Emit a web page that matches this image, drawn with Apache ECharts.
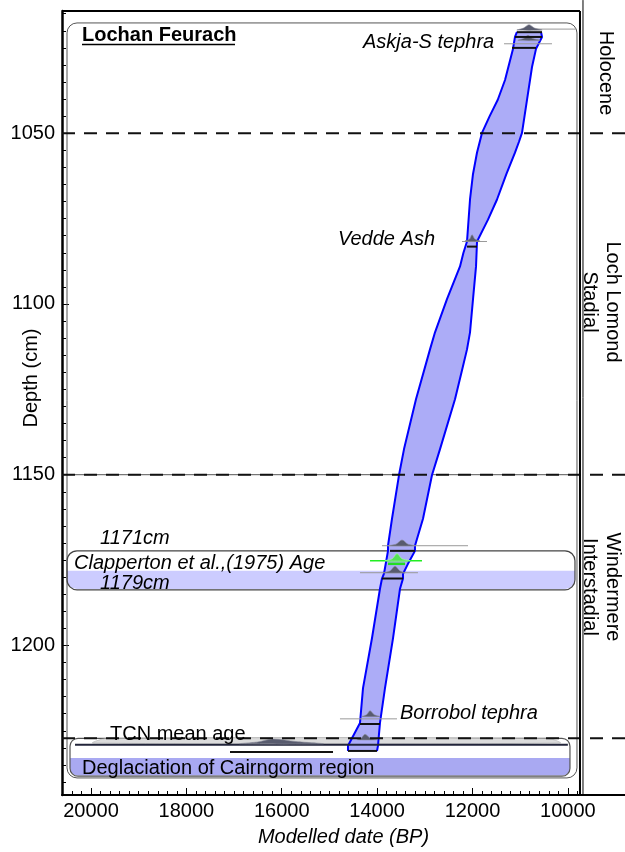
<!DOCTYPE html>
<html><head><meta charset="utf-8">
<script src="https://cdn.jsdelivr.net/npm/echarts@6/dist/echarts.min.js"></script>
<style>html,body{margin:0;padding:0;background:#fff}#c{width:625px;height:852px}</style>
</head><body><div id="c"></div>
<script>
const FONT = "'Liberation Sans', Arial, sans-serif";

// ---- axis extents and ticks ----
const X_MIN = 8802, X_MAX = 20608;       // Modelled date (BP), axis inverted
const Y_MIN = 1014.2, Y_MAX = 1243.8;    // depth (cm), axis inverted
const xTickLabels = [20000, 18000, 16000, 14000, 12000, 10000];
const yTickLabels = [1050, 1100, 1150, 1200];
const xMinorTicks = []; for (let v = 20400; v >= 9800; v -= 200) xMinorTicks.push(v);
const yMinorTicks = []; for (let v = 1015; v <= 1240; v += 5) yMinorTicks.push(v);

// ---- modelled age envelope: [depth, BP] ----
const envelopeOld = [[1020.3,11067],[1021.8,11109],[1025.3,11151],[1034.4,11318],[1040.2,11470],[1045.0,11640],[1049.9,11801],[1055.7,11906],[1062.0,11990],[1069.4,12052],[1081.7,12115],[1085.0,12190],[1089.0,12262],[1098.6,12535],[1108.3,12786],[1113.3,12891],[1127.9,13185],[1142.5,13436],[1150.1,13541],[1162.9,13688],[1170.8,13772],[1172.3,13772],[1179.0,13856],[1180.4,13898],[1183.4,13940],[1197.9,14108],[1212.5,14296],[1222.7,14359],[1229.4,14611],[1230.9,14611]];
const envelopeYoung = [[1020.3,10563],[1021.8,10542],[1025.3,10668],[1030.6,10752],[1040.2,10857],[1049.9,10962],[1052.5,11025],[1055.7,11109],[1062.0,11290],[1069.4,11486],[1075.3,11675],[1081.7,11905],[1089.0,11926],[1098.6,11989],[1108.3,12052],[1113.3,12115],[1120.0,12230],[1127.9,12367],[1142.5,12681],[1150.1,12849],[1162.9,13038],[1170.8,13206],[1172.3,13206],[1176.1,13353],[1179.0,13457],[1180.4,13457],[1183.4,13520],[1197.9,13667],[1212.5,13835],[1222.7,13940],[1229.4,13982],[1230.9,14003]];

// ---- probability distributions: [BP, height (cm above base)] ----
const endBoundaryDist = [[11067,0],[10930,0.6],[10815,1.6],[10700,0.6],[10542,0]];
const askjaDist = [[11046,0],[10920,0.6],[10836,1.5],[10750,0.6],[10585,0]];
const veddeDist = [[12157,0],[12060,0.6],[12010,1.9],[11950,0.6],[11843,0]];
const dist1171 = [[13772,0],[13604,0.45],[13478,1.7],[13353,0.45],[13206,0]];
const clappertonDist = [[13835,0],[13680,0.6],[13583,2.1],[13480,0.6],[13311,0]];
const dist1179 = [[13877,0],[13730,0.5],[13625,1.9],[13520,0.5],[13415,0]];
const borrobolDist = [[14317,0],[14220,0.5],[14149,1.7],[14060,0.5],[13940,0]];
const startDist = [[14422,0],[14330,0.5],[14254,1.6],[14150,0.5],[14003,0]];
const tcnDist = [[16875,0],[16500,0.55],[16183,1.4],[15700,0.65],[15135,0]];
const tcnTail = [[19958,0],[19700,1.3],[10400,1.3],[10165,0]];
// base depths of the distributions
const distBase = {end:1019.8, askja:1022.8, vedde:1081.6, d1171:1170.8, clap:1175.2, d1179:1178.7, borrobol:1220.8, start:1227.6, tcn:1228.8, tail:1228.6};

// ---- range bars and reference lines: [depth, BPfrom, BPto] ----
const blackBars = [[1020.4,11067,10542],[1021.8,11109,10542],[1025.0,11172,10668],[1083.2,12115,11905],[1172.3,13730,13206],[1180.4,13898,13457],[1223.0,14359,13940],[1230.9,14611,14003],[1231.2,17085,14925]];
const grayLines = [[1019.5,10670,9830],[1023.8,11339,10333],[1081.7,12220,11696],[1170.8,13898,12094],[1178.7,14359,13143],[1221.5,14779,13583]];
const greenLines = [[1175.2,14149,13059]];
const greenBars = [[1176.1,13772,13415]];
const deglacLine = [[1229.1,20335,10000]];
const periodBoundaries = [1050, 1150, 1227.2];
const solidBoundary = [[1150,20608,9746]];

// ---- frame and boxes: [BPleft, depthTop, BPright, depthBottom] ----
const frameTop = [[1014.2,20608,9746]];
const frameRight = [9746, 1014.2, 9746, 1243.8];
const columnLine = [9683, 1011.0, 9683, 1243.8];
const mainBox = [20503, 1017.7, 9809, 1238.8];
const clappertonBox = [20503, 1172.3, 9851, 1183.7];
const clappertonBand = [20503, 1178.1, 9851, 1183.5];
const deglacBox = [20440, 1227.2, 9956, 1238.3];
const deglacBand = [20440, 1233.0, 9956, 1238.1];

// ---------- helpers ----------
function hSegSeries(arr, style, z) {
  return {type:'custom', silent:true, z, data: arr.map(a => [a[1], a[0], a[2], a[0]]),
    renderItem: (p, api) => {
      const a = api.coord([api.value(0), api.value(1)]), b = api.coord([api.value(2), api.value(3)]);
      return {type:'line', shape:{x1:a[0], y1:a[1], x2:b[0], y2:b[1]}, style};
    }};
}
function segSeries(seg, style, z) {
  return {type:'custom', silent:true, z, data:[seg],
    renderItem: (p, api) => {
      const a = api.coord([api.value(0), api.value(1)]), b = api.coord([api.value(2), api.value(3)]);
      return {type:'line', shape:{x1:a[0], y1:a[1], x2:b[0], y2:b[1]}, style};
    }};
}
function rectSeries(box, style, r, z) {
  return {type:'custom', silent:true, z, data:[box],
    renderItem: (p, api) => {
      const a = api.coord([api.value(0), api.value(1)]), b = api.coord([api.value(2), api.value(3)]);
      return {type:'rect', shape:{x:Math.min(a[0],b[0]), y:Math.min(a[1],b[1]), width:Math.abs(b[0]-a[0]), height:Math.abs(b[1]-a[1]), r}, style};
    }};
}
function distSeries(pts, base, style, z) {
  return {type:'custom', silent:true, z, data:[[pts[0][0], base]],
    renderItem: (p, api) => ({type:'polygon', shape:{points: pts.map(q => api.coord([q[0], base - q[1]])), smooth:0.3}, style})
  };
}
const envelopeFill = {type:'custom', silent:true, z:3, data:[[envelopeOld[0][1], envelopeOld[0][0]]],
  renderItem: (p, api) => {
    const pts = envelopeOld.map(q => api.coord([q[1], q[0]])).concat(envelopeYoung.slice().reverse().map(q => api.coord([q[1], q[0]])));
    return {type:'polygon', shape:{points:pts}, style:{fill:'#acacf7', stroke:null}};
  }};
function edgeSeries(arr) {
  return {type:'custom', silent:true, z:4, data:[[arr[0][1], arr[0][0]]],
    renderItem: (p, api) => ({type:'polyline', shape:{points: arr.map(q => api.coord([q[1], q[0]]))}, style:{stroke:'#0000ff', lineWidth:2, fill:null, lineJoin:'round'}})
  };
}

const distStyle = {fill:'#585b6e', stroke:'#8a8c98', lineWidth:0.6};
const series = [
  rectSeries(clappertonBand, {fill:'#ccccff', stroke:null}, [0,0,10,10], 1),
  rectSeries(deglacBand, {fill:'#a9a9f2', stroke:null}, [0,0,8,8], 1),
  rectSeries(mainBox, {fill:null, stroke:'#555', lineWidth:1}, 10, 2),
  rectSeries(clappertonBox, {fill:null, stroke:'#444', lineWidth:1.2}, 10, 2),
  rectSeries(deglacBox, {fill:null, stroke:'#555', lineWidth:1.2}, 8, 2),
  hSegSeries(solidBoundary, {stroke:'#555', lineWidth:1}, 2),
  distSeries(tcnTail, distBase.tail, {fill:'#dcdcdc', stroke:'#aaa', lineWidth:0.6}, 2),
  envelopeFill,
  edgeSeries(envelopeOld),
  edgeSeries(envelopeYoung),
  hSegSeries(grayLines, {stroke:'#999', lineWidth:1}, 5),
  hSegSeries(greenLines, {stroke:'#22ee22', lineWidth:1.5}, 5),
  hSegSeries(deglacLine, {stroke:'#22253a', lineWidth:2}, 5),
  distSeries(endBoundaryDist, distBase.end, distStyle, 6),
  distSeries(askjaDist, distBase.askja, distStyle, 6),
  distSeries(veddeDist, distBase.vedde, distStyle, 6),
  distSeries(dist1171, distBase.d1171, distStyle, 6),
  distSeries(clappertonDist, distBase.clap, {fill:'#55e055', stroke:'#aaffaa', lineWidth:0.6}, 6),
  distSeries(dist1179, distBase.d1179, distStyle, 6),
  distSeries(borrobolDist, distBase.borrobol, distStyle, 6),
  distSeries(startDist, distBase.start, distStyle, 6),
  distSeries(tcnDist, distBase.tcn, distStyle, 6),
  hSegSeries(blackBars, {stroke:'#111', lineWidth:2}, 7),
  hSegSeries(greenBars, {stroke:'#22dd22', lineWidth:2.5}, 7),
  hSegSeries(periodBoundaries.map(d => [d, X_MAX, X_MIN]), {stroke:'#111', lineWidth:2, lineDash:[13,9]}, 8),
  hSegSeries(frameTop, {stroke:'#000', lineWidth:2}, 9),
  segSeries(frameRight, {stroke:'#000', lineWidth:2}, 9),
  segSeries(columnLine, {stroke:'#000', lineWidth:1}, 9)
];

const axisFont = {fontSize:20, color:'#000', fontFamily:FONT};
const option = {
  animation:false,
  grid:{left:62, right:0, top:11, bottom:55, containLabel:false},
  xAxis:[
    {type:'value', inverse:true, min:X_MIN, max:X_MAX, position:'bottom',
     axisLine:{show:true, onZero:false, lineStyle:{color:'#000', width:2}},
     axisTick:{show:true, inside:true, length:7, customValues:xTickLabels, lineStyle:{color:'#000', width:1}},
     axisLabel:Object.assign({show:true, customValues:xTickLabels, margin:6, formatter:v => String(v)}, axisFont),
     splitLine:{show:false},
     name:'Modelled date (BP)', nameLocation:'middle', nameGap:32,
     nameTextStyle:{fontSize:20, fontStyle:'italic', color:'#000', fontFamily:FONT}},
    {type:'value', inverse:true, min:X_MIN, max:X_MAX, position:'bottom', gridIndex:0,
     axisLine:{show:false}, axisLabel:{show:false}, splitLine:{show:false},
     axisTick:{show:true, inside:true, length:4, customValues:xMinorTicks, lineStyle:{color:'#000', width:1}}}
  ],
  yAxis:[
    {type:'value', inverse:true, min:Y_MIN, max:Y_MAX, position:'left',
     axisLine:{show:true, onZero:false, lineStyle:{color:'#000', width:2.5}},
     axisTick:{show:true, inside:true, length:7, customValues:yTickLabels, lineStyle:{color:'#000', width:1}},
     axisLabel:Object.assign({show:true, customValues:yTickLabels, margin:7, formatter:v => String(v)}, axisFont),
     splitLine:{show:false}},
    {type:'value', inverse:true, min:Y_MIN, max:Y_MAX, position:'left', gridIndex:0,
     axisLine:{show:false}, axisLabel:{show:false}, splitLine:{show:false},
     axisTick:{show:true, inside:true, length:4, customValues:yMinorTicks, lineStyle:{color:'#000', width:1}}}
  ],
  series,
  graphic:[]
};

function txt(text, x, y, opts) {
  opts = opts || {};
  return {type:'text', x, y, rotation:opts.rotation || 0, silent:true, z:100,
    style:{text, fill:'#000', fontSize:opts.size || 20, fontFamily:FONT,
      fontStyle:opts.italic ? 'italic' : 'normal', fontWeight:opts.bold ? 'bold' : 'normal',
      align:opts.align || 'left', textAlign:opts.align || 'left',
      verticalAlign:'middle', textVerticalAlign:'middle', lineHeight:opts.lh || 22}};
}
option.graphic = [
  txt('Lochan Feurach', 82, 35, {bold:true}),
  {type:'line', silent:true, z:100, shape:{x1:82, y1:44.5, x2:235, y2:44.5}, style:{stroke:'#000', lineWidth:1.6}},
  txt('Askja-S tephra', 363, 42, {italic:true}),
  txt('Vedde Ash', 435, 239, {italic:true, align:'right'}),
  txt('1171cm', 100, 538, {italic:true}),
  txt('Clapperton et al.,(1975) Age', 74, 563, {italic:true}),
  txt('1179cm', 100, 583, {italic:true}),
  txt('Borrobol tephra', 400, 713, {italic:true}),
  txt('TCN mean age', 110, 734, {}),
  txt('Deglaciation of Cairngorm region', 82, 768, {}),
  txt('Depth (cm)', 31, 378, {align:'center', rotation:Math.PI/2}),
  txt('Holocene', 606, 73, {align:'center', rotation:-Math.PI/2}),
  txt('Loch Lomond\nStadial', 601, 302, {align:'center', rotation:-Math.PI/2, lh:23}),
  txt('Windermere\nInterstadial', 601, 587, {align:'center', rotation:-Math.PI/2, lh:23})
];

const chart = echarts.init(document.getElementById('c'));
chart.setOption(option);
</script>
</body></html>
